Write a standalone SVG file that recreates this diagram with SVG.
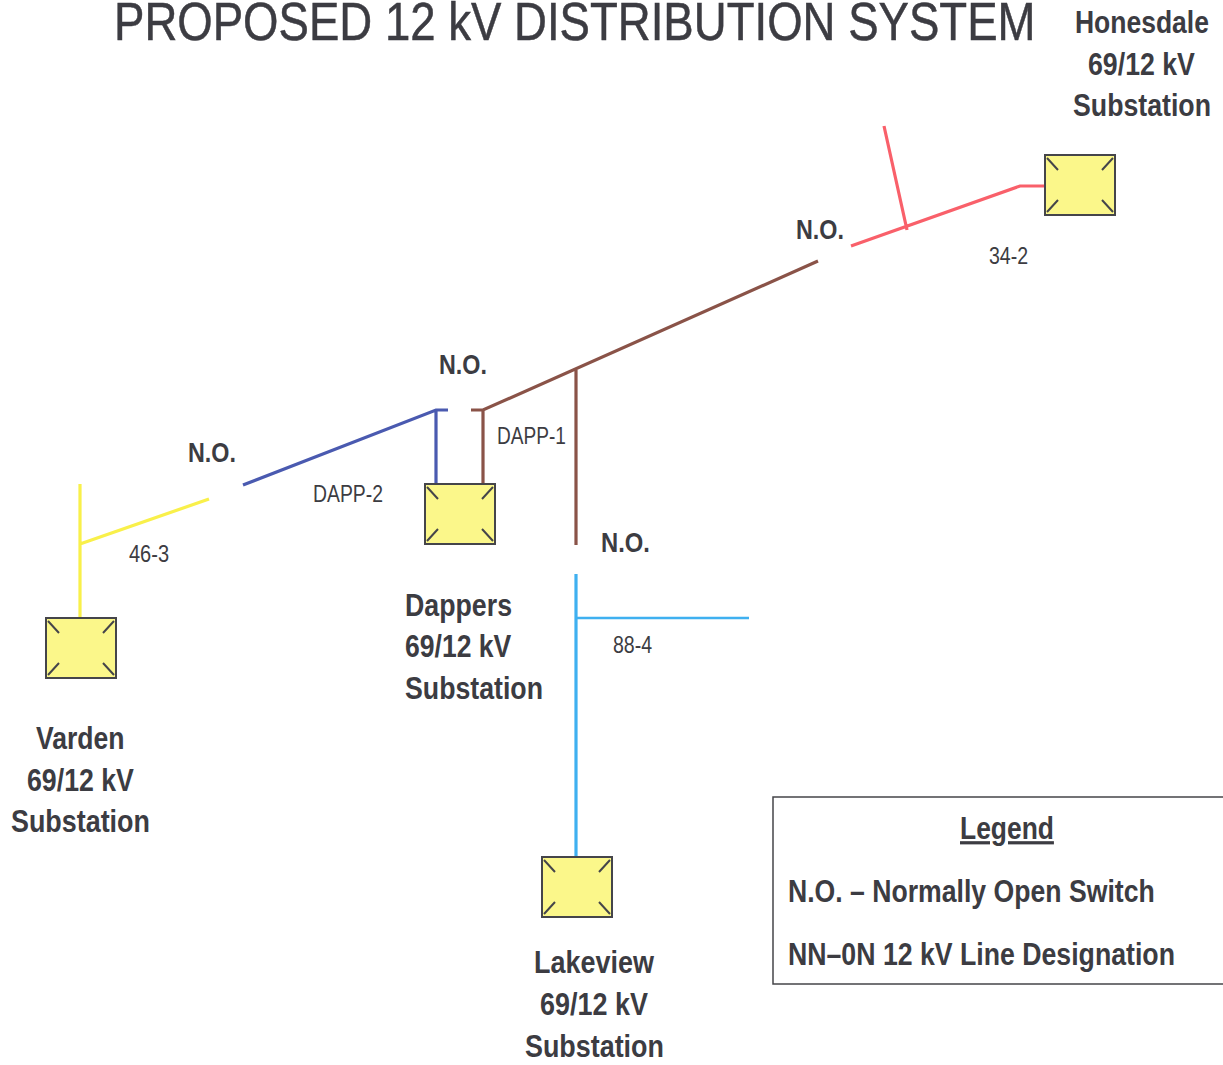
<svg xmlns="http://www.w3.org/2000/svg" width="1223" height="1065" viewBox="0 0 1223 1065">
<style>
text{font-family:"Liberation Sans",Arial,sans-serif;fill:#3c3c42}
.b{font-size:32px;font-weight:700}
.n{font-size:28px;font-weight:700}
.s{font-size:23px}
.l{fill:none;stroke-width:3.2}
.box{fill:#fbf78a;stroke:#45454a;stroke-width:2}
.x{stroke:#45454a;stroke-width:2;fill:none}
</style>
<defs><g id="sub"><rect class="box" x="0" y="0" width="70" height="60"/><path class="x" d="M2 3L13 15M68 3L57 15M2 57L13 45M68 57L57 45"/></g></defs>
<rect width="1223" height="1065" fill="#fff"/>
<text transform="translate(114 40) scale(.86 1)" font-size="53" stroke="#3c3c42" stroke-width="0.5">PROPOSED 12 kV DISTRIBUTION SYSTEM</text>
<g id="connectors">
<path class="l" stroke="#f9f04a" d="M80 484V618M80 544L209 499"/>
<path class="l" stroke="#4a5ab0" d="M243 485L436 410H448M436 410V484"/>
<path class="l" stroke="#8a5348" d="M471 410H483L818 261M483 410V484M576 368V545"/>
<path class="l" stroke="#3fb0f0" d="M576 574V857"/>
<path fill="none" stroke="#3fb0f0" stroke-width="2.4" d="M576 618H749"/>
<path class="l" stroke="#f9606a" d="M851 246L1020 186H1045M884 126L907 230"/>
</g>
<g id="varden"><use href="#sub" x="46" y="618"/><text class="b" transform="translate(36 749) scale(.83 1)">Varden</text><text class="b" transform="translate(27 791) scale(.835 1)">69/12 kV</text><text class="b" transform="translate(11 832) scale(.841 1)">Substation</text></g>
<g id="dappers"><use href="#sub" x="425" y="484"/><text class="b" transform="translate(405 616) scale(.836 1)">Dappers</text><text class="b" transform="translate(405 657) scale(.83 1)">69/12 kV</text><text class="b" transform="translate(405 699) scale(.835 1)">Substation</text></g>
<g id="lakeview"><use href="#sub" x="542" y="857"/><text class="b" transform="translate(534 973) scale(.843 1)">Lakeview</text><text class="b" transform="translate(540 1015) scale(.843 1)">69/12 kV</text><text class="b" transform="translate(525 1057) scale(.841 1)">Substation</text></g>
<g id="honesdale"><use href="#sub" x="1045" y="155"/><text class="b" transform="translate(1075 33) scale(.828 1)">Honesdale</text><text class="b" transform="translate(1088 75) scale(.835 1)">69/12 kV</text><text class="b" transform="translate(1073 116) scale(.835 1)">Substation</text></g>
<g id="labels">
<text class="n" transform="translate(188 462) scale(.833 1)">N.O.</text><text class="n" transform="translate(439 374) scale(.833 1)">N.O.</text><text class="n" transform="translate(601 552) scale(.85 1)">N.O.</text><text class="n" transform="translate(796 239) scale(.833 1)">N.O.</text>
<text class="s" transform="translate(129 562) scale(.87 1)">46-3</text><text class="s" transform="translate(313 502) scale(.843 1)">DAPP-2</text><text class="s" transform="translate(497 444) scale(.83 1)">DAPP-1</text><text class="s" transform="translate(613 653) scale(.85 1)">88-4</text><text class="s" transform="translate(989 264) scale(.85 1)">34-2</text>
</g>
<g id="legend">
<path d="M1223 797H773V984H1223" fill="none" stroke="#45454a" stroke-width="1.5"/>
<text class="b" transform="translate(960 839) scale(.826 1)" text-decoration="underline">Legend</text>
<text class="b" transform="translate(788 902) scale(.832 1)">N.O. – Normally Open Switch</text>
<text class="b" transform="translate(788 965) scale(.834 1)">NN–0N 12 kV Line Designation</text>
</g>
</svg>
